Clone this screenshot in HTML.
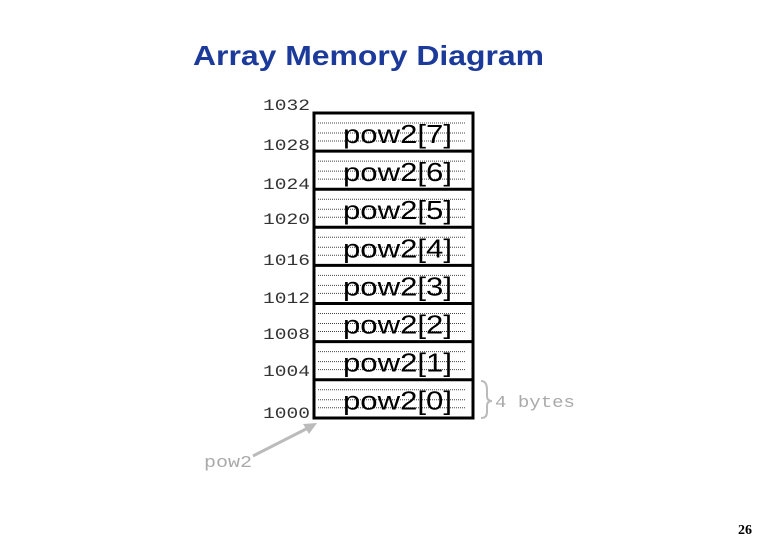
<!DOCTYPE html>
<html><head><meta charset="utf-8"><style>
html,body{margin:0;padding:0;background:#fff;}
svg{display:block;}
</style></head><body>
<svg width="780" height="540" viewBox="0 0 780 540" xmlns="http://www.w3.org/2000/svg">
<rect width="780" height="540" fill="#fff"/>
<text x="193" y="65" font-family="Liberation Sans, sans-serif" font-weight="bold" font-size="28" fill="#1b3a9a" textLength="351" lengthAdjust="spacingAndGlyphs">Array Memory Diagram</text>
<g font-family="Liberation Mono, monospace" font-size="16" fill="#333">
<text x="263" y="110" textLength="47" lengthAdjust="spacingAndGlyphs">1032</text>
<text x="263" y="150" textLength="47" lengthAdjust="spacingAndGlyphs">1028</text>
<text x="263" y="189" textLength="47" lengthAdjust="spacingAndGlyphs">1024</text>
<text x="263" y="224" textLength="47" lengthAdjust="spacingAndGlyphs">1020</text>
<text x="263" y="265" textLength="47" lengthAdjust="spacingAndGlyphs">1016</text>
<text x="263" y="303" textLength="47" lengthAdjust="spacingAndGlyphs">1012</text>
<text x="263" y="339" textLength="47" lengthAdjust="spacingAndGlyphs">1008</text>
<text x="263" y="376" textLength="47" lengthAdjust="spacingAndGlyphs">1004</text>
<text x="263" y="418" textLength="47" lengthAdjust="spacingAndGlyphs">1000</text>
</g>
<g id="rows" stroke="#000">
</g>
<script>
var g=document.getElementById('rows');var ns='http://www.w3.org/2000/svg';
var top0=113,h=38.1;
for(var i=0;i<8;i++){var y=top0+i*h;
[10,20,28].forEach(function(o){var l=document.createElementNS(ns,'line');l.setAttribute('x1',318);l.setAttribute('x2',466);l.setAttribute('y1',y+o);l.setAttribute('y2',y+o);l.setAttribute('stroke','#444');l.setAttribute('stroke-width','1');l.setAttribute('stroke-dasharray','1 1');g.appendChild(l);});
var t=document.createElementNS(ns,'text');t.setAttribute('x',343);t.setAttribute('y',y+30);t.setAttribute('font-family','Liberation Sans, sans-serif');t.setAttribute('font-size','26');t.setAttribute('stroke','none');t.setAttribute('fill','#000');t.setAttribute('textLength','109');t.setAttribute('lengthAdjust','spacingAndGlyphs');t.textContent='pow2['+(7-i)+']';g.appendChild(t);
var r=document.createElementNS(ns,'line');r.setAttribute('x1',314);r.setAttribute('x2',473);r.setAttribute('y1',y);r.setAttribute('y2',y);r.setAttribute('stroke-width','3');g.appendChild(r);}
var b=document.createElementNS(ns,'rect');b.setAttribute('x',314);b.setAttribute('y',113);b.setAttribute('width',159);b.setAttribute('height',305);b.setAttribute('fill','none');b.setAttribute('stroke-width','3');g.appendChild(b);
</script>
<path d="M481 381 Q487 381 487 390 L487 396 Q487 401 492 401 Q487 401 487 406 L487 412 Q487 418 481 418" fill="none" stroke="#bbb" stroke-width="2"/>
<text x="495" y="407" font-family="Liberation Mono, monospace" font-size="17" fill="#aaa" textLength="80" lengthAdjust="spacingAndGlyphs">4 bytes</text>
<text x="204" y="467" font-family="Liberation Mono, monospace" font-size="17" fill="#aaa" textLength="48" lengthAdjust="spacingAndGlyphs">pow2</text>
<line x1="253" y1="456" x2="308" y2="428" stroke="#bbb" stroke-width="3"/>
<polygon points="317,423 303,424 309,434" fill="#bbb"/>
<text x="738" y="534" font-family="Liberation Serif, serif" font-weight="bold" font-size="14" fill="#000">26</text>
</svg>
</body></html>
